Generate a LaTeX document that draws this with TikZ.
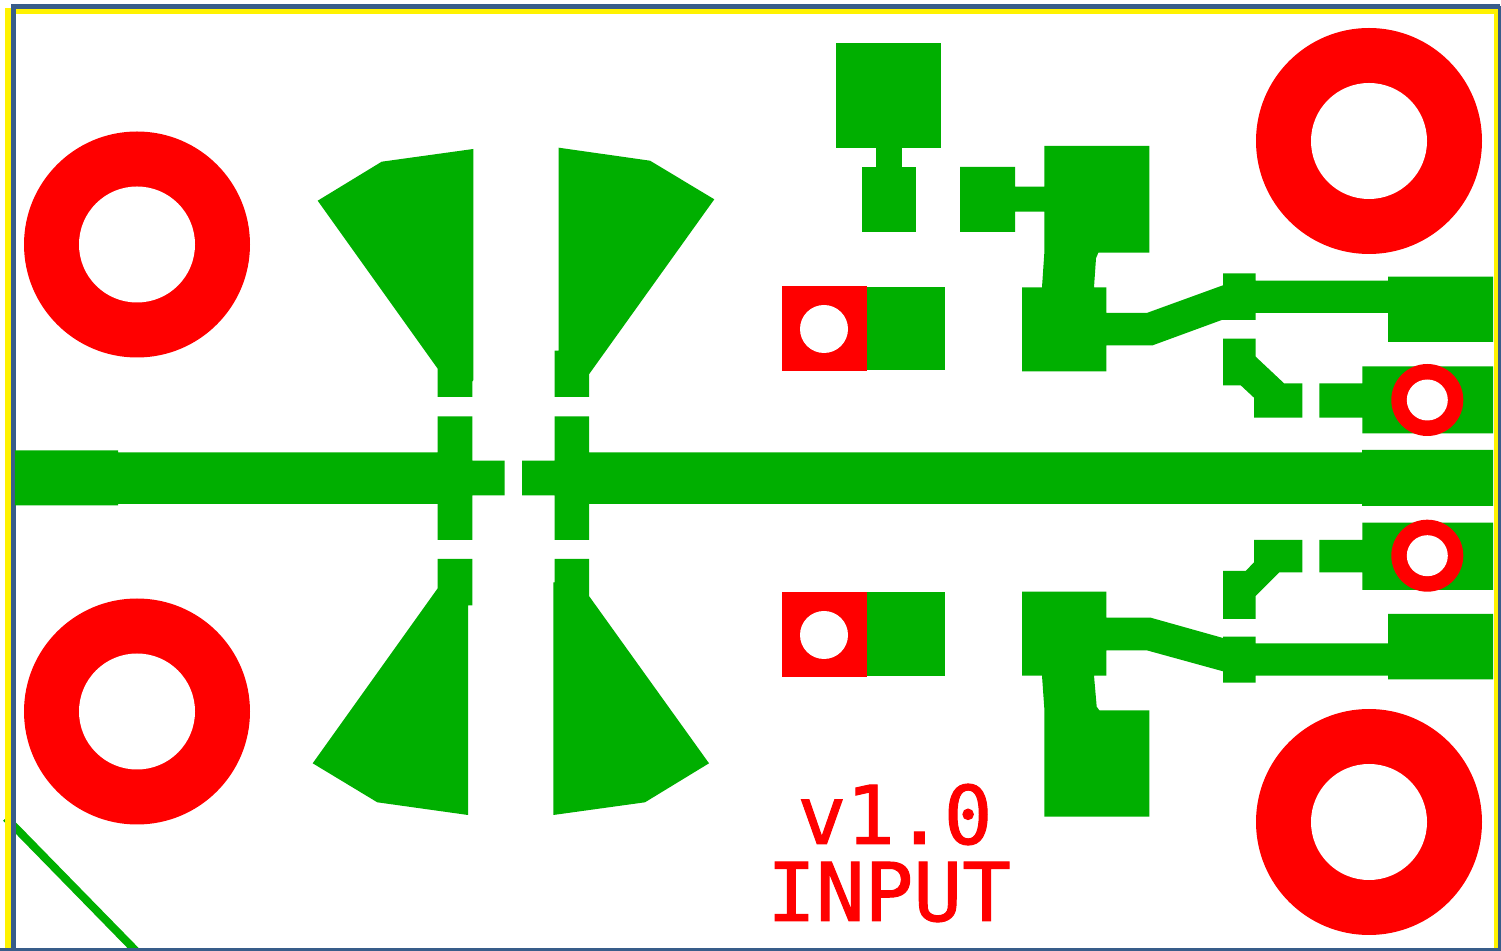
\documentclass[tikz,border=0pt]{standalone}
\usepackage{fontspec}
\newfontfamily\silkfont[FakeBold=1.2]{DejaVu Sans Mono}
\definecolor{copper}{RGB}{0,175,0}
\definecolor{outline}{RGB}{56,93,138}
\tikzset{
  pour/.style={fill=copper,draw=none},
  padred/.style={fill=red,draw=none},
  drill/.style={fill=white,draw=none},
  silk/.style={text=red,inner sep=0pt,anchor=base,font=\silkfont\fontsize{40.5}{40.5}\selectfont}
}
\begin{document}
\begin{tikzpicture}[x=0.5pt,y=-0.5pt]
  \useasboundingbox (0,0) rectangle (1501,951);
  \fill[white] (0,0) rectangle (1501,951);

  % board edge
  \draw[copper,line width=4pt] (6,818) -- (136,951);
  \draw[yellow,line width=2.9pt] (7.7,951) -- (7.7,11.3) -- (1496.5,11.3) -- (1496.5,951);
  \draw[outline,line width=2.5pt] (13,951) -- (13,6.8) -- (1500,6.8);
  \draw[outline,line width=1.5pt] (0,949.5) -- (1501,949.5);
  \draw[outline,line width=1.2pt] (1499.5,6) -- (1499.5,951);

  % mounting holes
  \foreach \cx/\cy in {137/244.5,137/711.5,1369/141,1369/822}{
    \fill[padred] (\cx,\cy) circle[radius=113];
    \fill[drill] (\cx,\cy) circle[radius=58];
  }

  % main line
  \fill[pour] (15,450.5) -- (118,450.5) -- (118,452.3) -- (437.7,452.3) -- (437.7,416.3) -- (472.3,416.3)
     -- (472.3,460.7) -- (504.7,460.7) -- (504.7,495.3) -- (472.3,495.3) -- (472.3,540) -- (437.7,540)
     -- (437.7,504) -- (118,504) -- (118,505.5) -- (15,505.5) -- cycle;
  \fill[pour] (1493,450) -- (1362,450) -- (1362,452.3) -- (589,452.3) -- (589,416.3) -- (554.7,416.3)
     -- (554.7,460.7) -- (522,460.7) -- (522,495.3) -- (554.7,495.3) -- (554.7,540) -- (589,540)
     -- (589,504) -- (1362,504) -- (1362,506) -- (1493,506) -- cycle;

  % stubs
  \fill[pour] (317.7,200.7) -- (381.7,161.7) -- (473.3,149) -- (473.3,380) -- (472.3,381.7) -- (472.3,397)
     -- (437.7,397) -- (437.7,368.7) -- cycle;
  \fill[pour] (558.7,147.7) -- (650,160.7) -- (714.3,199.3) -- (589,374.3) -- (589,397) -- (554.7,397)
     -- (554.7,350.7) -- (558.7,350.7) -- cycle;
  \fill[pour] (437.7,559) -- (472.3,559) -- (472.3,605.3) -- (468,605.3) -- (468,815) -- (377.3,802.3)
     -- (312.7,763.3) -- (437.7,588.3) -- cycle;
  \fill[pour] (554.7,559) -- (589,559) -- (589,596) -- (709,763.3) -- (645,802.3) -- (553.3,815)
     -- (553.3,582.3) -- (554.7,582.3) -- cycle;

  % top pads
  \fill[pour] (836,43) rectangle (941,148);
  \fill[pour] (876,148) rectangle (902,167);
  \fill[pour] (862,167) rectangle (915.5,232);

  % upper branch
  \fill[pour] (960,167) -- (1015,167) -- (1015,186.7) -- (1044.3,186.7) -- (1044.3,146) -- (1149.3,146)
     -- (1149.3,252.7) -- (1098.3,252.7) -- (1096,258.3) -- (1094,287.3) -- (1106.3,287.3) -- (1106.3,313)
     -- (1146.7,313) -- (1223,285.3) -- (1223,273.3) -- (1255.7,273.3) -- (1255.7,280.7) -- (1388,280.7)
     -- (1388,276.7) -- (1493,276.7) -- (1493,342) -- (1388,342) -- (1388,313) -- (1255.7,313)
     -- (1255.7,320) -- (1221.7,320) -- (1152.7,345.3) -- (1106.3,345.3) -- (1106.3,371.3) -- (1022,371.3)
     -- (1022,287.3) -- (1042,287.3) -- (1044.3,253.3) -- (1044.3,211.7) -- (1015,211.7) -- (1015,232)
     -- (960,232) -- cycle;
  \fill[pour] (1223,338.7) -- (1255.7,338.7) -- (1255.7,356.7) -- (1284,383.3) -- (1302.3,383.3) -- (1302.3,417.7)
     -- (1254,417.7) -- (1254,397.7) -- (1240.7,385.3) -- (1223,385.3) -- cycle;
  \fill[pour] (1319.3,383.3) -- (1362.3,383.3) -- (1362.3,366.3) -- (1493,366.3) -- (1493,433.3) -- (1362.3,433.3)
     -- (1362.3,417.7) -- (1319.3,417.7) -- cycle;

  % lower branch
  \fill[pour] (1022,591.7) -- (1106.3,591.7) -- (1106.3,617.7) -- (1150.7,617.7) -- (1223,638) -- (1223,636.7)
     -- (1255.7,636.7) -- (1255.7,643.3) -- (1388,643.3) -- (1388,614) -- (1493,614) -- (1493,679.3)
     -- (1388,679.3) -- (1388,675.7) -- (1255.7,675.7) -- (1255.7,682.7) -- (1223,682.7) -- (1223,671.3)
     -- (1146.7,650.3) -- (1106.3,650.3) -- (1106.3,675.7) -- (1094,675.7) -- (1096.7,706.7) -- (1099.3,710.3)
     -- (1149.3,710.3) -- (1149.3,816.7) -- (1044.3,816.7) -- (1044.3,708.3) -- (1042,675.7) -- (1022,675.7) -- cycle;
  \fill[pour] (1254,540) -- (1302.3,540) -- (1302.3,572.3) -- (1279.3,572.3) -- (1255.7,596) -- (1255.7,619)
     -- (1223,619) -- (1223,571) -- (1245.7,571) -- (1254,562.3) -- cycle;
  \fill[pour] (1319.3,540) -- (1362.3,540) -- (1362.3,522.7) -- (1493,522.7) -- (1493,590) -- (1362.3,590)
     -- (1362.3,572.3) -- (1319.3,572.3) -- cycle;

  % small vias
  \foreach \vy in {400,555.7}{
    \fill[padred] (1427.3,\vy) circle[radius=36];
    \fill[drill] (1427.3,\vy) circle[radius=20.5];
  }

  % square pads
  \foreach \py/\qy in {286/287.5,592/592}{
    \fill[pour] (867,\qy) rectangle (945,\py+84);
    \fill[padred] (781.5,\py) rectangle (867,\py+85.5);
    \fill[drill] (824,\py+43) circle[radius=24];
  }

  \node[silk] (version) at (895,844) {v1.0};
  \node[silk] (inputlabel) at (889,921) {INPUT};
\end{tikzpicture}
\end{document}
